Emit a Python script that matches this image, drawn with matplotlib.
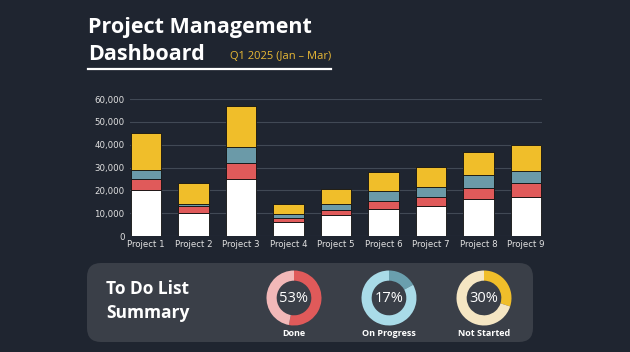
import matplotlib
matplotlib.use("Agg")
import matplotlib.pyplot as plt
from matplotlib.patches import FancyBboxPatch
import numpy as np

projects = ["Project 1", "Project 2", "Project 3", "Project 4", "Project 5",
            "Project 6", "Project 7", "Project 8", "Project 9"]
seg_white = [20000, 10000, 25000, 6000, 9000, 12000, 13000, 16000, 17000]
seg_red = [5000, 3000, 7000, 2000, 2500, 3500, 4000, 5000, 6000]
seg_teal = [4000, 1000, 7000, 1500, 2500, 4000, 4500, 5500, 5500]
seg_yellow = [16000, 9300, 18000, 4500, 6500, 8500, 8500, 10500, 11500]
yticks = [0, 10000, 20000, 30000, 40000, 50000, 60000]

todo_labels = ["Done", "On Progress", "Not Started"]
todo_values = [53, 17, 30]

BG = "#1f2530"
PANEL = "#3a3f48"
C_WHITE = "#ffffff"
C_RED = "#e05a5a"
C_TEAL = "#6b9aa8"
C_YELLOW = "#f0be2a"
donut_main = [C_RED, "#6a9fae", C_YELLOW]
donut_light = ["#f2b8b8", "#a9dbe8", "#f5e6c3"]

W, H = 630, 352
fig = plt.figure(figsize=(W / 100, H / 100), dpi=100, facecolor=BG)

def fx(px):
    return px / W

def fy(py):
    return 1 - py / H

# Title
fig.text(fx(88), fy(33), "Project Management", color="white", fontsize=15.5,
         fontweight="bold", family="Open Sans", ha="left", va="baseline")
fig.text(fx(88), fy(60), "Dashboard", color="white", fontsize=15.5,
         fontweight="bold", family="Open Sans", ha="left", va="baseline")
fig.text(fx(230), fy(59), "Q1 2025 (Jan \u2013 Mar)", color="#e9b935", fontsize=8,
         family="Open Sans", ha="left", va="baseline")
fig.add_artist(plt.Line2D([fx(88), fx(331)], [fy(68.5), fy(68.5)], color="white",
                          lw=1.6, transform=fig.transFigure))

# Bar chart
ax = fig.add_axes([fx(130), fy(236), fx(542) - fx(130), fy(99) - fy(236)])
ax.set_facecolor(BG)
x = np.arange(len(projects))
bw = 0.64
b1 = np.array(seg_white)
b2 = b1 + np.array(seg_red)
b3 = b2 + np.array(seg_teal)
ax.bar(x, seg_white, bw, color=C_WHITE, edgecolor="#111111", lw=0.6, zorder=3)
ax.bar(x, seg_red, bw, bottom=b1, color=C_RED, edgecolor="#111111", lw=0.6, zorder=3)
ax.bar(x, seg_teal, bw, bottom=b2, color=C_TEAL, edgecolor="#111111", lw=0.6, zorder=3)
ax.bar(x, seg_yellow, bw, bottom=b3, color=C_YELLOW, edgecolor="#111111", lw=0.6, zorder=3)
ax.set_xlim(-bw / 2 - 0.02, len(projects) - 1 + bw / 2 + 0.02)
ax.set_ylim(0, 60000)
ax.set_yticks(yticks)
ax.set_yticklabels([f"{v:,}" for v in yticks])
ax.set_xticks(x)
ax.set_xticklabels(projects)
ax.tick_params(axis="both", length=0, colors="#e2e2e2", labelsize=6.2)
ax.tick_params(axis="y", pad=4)
ax.tick_params(axis="x", pad=3)
for s in ax.spines.values():
    s.set_visible(False)
ax.grid(axis="y", color="#414955", lw=0.8, zorder=0)
ax.set_axisbelow(True)

# Panel
pax = fig.add_axes([0, 0, 1, 1], zorder=-1)
pax.set_xlim(0, W)
pax.set_ylim(H, 0)
pax.axis("off")
pax.add_patch(FancyBboxPatch((87 + 14, 263 + 14), 446 - 28, 79 - 28,
                             boxstyle="round,pad=14", facecolor=PANEL,
                             edgecolor="none"))
fig.text(fx(106), fy(294), "To Do List", color="white", fontsize=12.5,
         fontweight="bold", family="Open Sans", ha="left", va="baseline")
fig.text(fx(106), fy(318), "Summary", color="white", fontsize=12.5,
         fontweight="bold", family="Open Sans", ha="left", va="baseline")

# Donuts
centers = [294, 389, 484]
cy = 298
R = 27.5
half = 32
for i, (lab, val) in enumerate(zip(todo_labels, todo_values)):
    dax = fig.add_axes([fx(centers[i] - half), fy(cy + half), 2 * half / W, 2 * half / H])
    dax.pie([val, 100 - val], colors=[donut_main[i], donut_light[i]], startangle=90,
            counterclock=False, radius=1, wedgeprops=dict(width=0.37, edgecolor="none"))
    dax.set_xlim(-half / R, half / R)
    dax.set_ylim(-half / R, half / R)
    dax.set_aspect("auto")
    dax.text(0, 0, f"{val}%", color="white", fontsize=10.5, ha="center", va="center",
             family="Open Sans")
    fig.text(fx(centers[i]), fy(334), lab, color="white", fontsize=6.5,
             fontweight="bold", family="Open Sans", ha="center", va="center")

fig.savefig("out.png", dpi=100, facecolor=BG)
